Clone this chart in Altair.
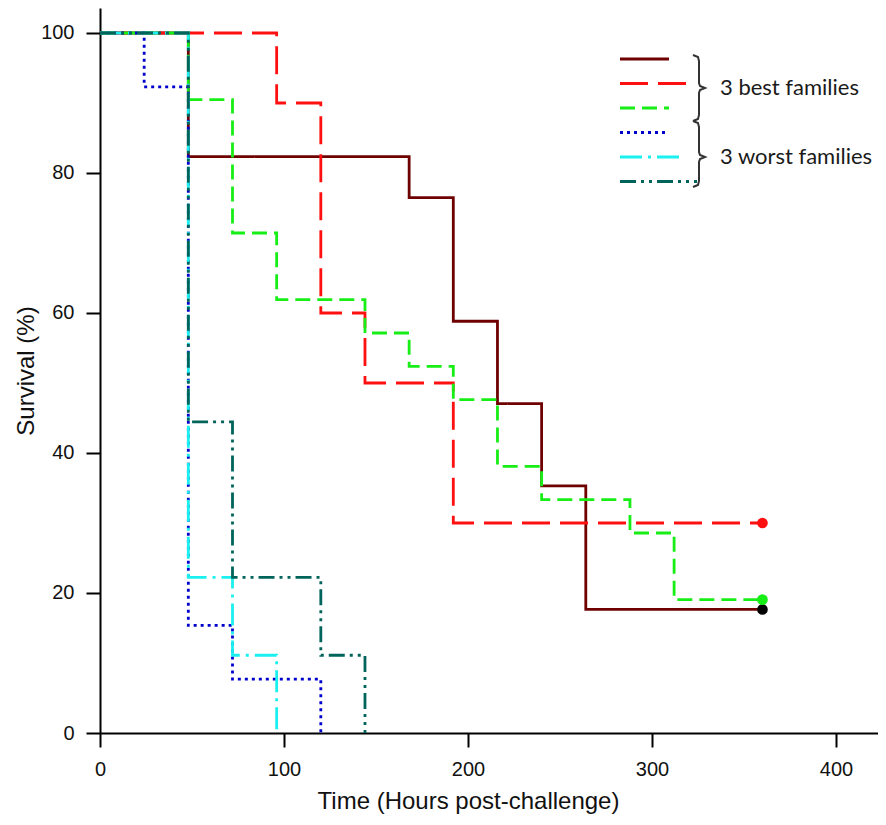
import altair as alt
import pandas as pd

# ---------------- data ----------------
series = ["Best 1", "Best 2", "Best 3", "Worst 1", "Worst 2", "Worst 3"]

best1_t = [0, 48, 168, 192, 216, 240, 264, 360]
best1_s = [100, 82.35, 76.47, 58.82, 47.06, 35.29, 17.65, 17.65]
best2_t = [0, 96, 120, 144, 192, 360]
best2_s = [100, 90, 60, 50, 30, 30]
best3_t = [0, 48, 72, 96, 144, 168, 192, 216, 240, 288, 312, 360]
best3_s = [100, 90.48, 71.43, 61.90, 57.14, 52.38, 47.62, 38.10, 33.33, 28.57, 19.05, 19.05]
worst1_t = [0, 24, 48, 72, 120]
worst1_s = [100, 92.31, 15.38, 7.69, 0]
worst2_t = [0, 48, 72, 96]
worst2_s = [100, 22.22, 11.11, 0]
worst3_t = [0, 48, 72, 120, 144]
worst3_s = [100, 44.44, 22.22, 11.11, 0]

end_series = ["Best 1", "Best 2", "Best 3"]
end_t = [360, 360, 360]
end_s = [17.65, 30, 19.05]

group_labels = ["3 best families", "3 worst families"]
x_ticks = [0, 100, 200, 300, 400]
y_ticks = [0, 20, 40, 60, 80, 100]

# ---------------- styles ----------------
line_colors = ["#6E0000", "#FF1010", "#16EE16", "#0000CC", "#1AF0F0", "#00645A"]
dashes = [[1, 0], [28, 10], [15, 7], [3, 4], [22, 6, 3, 6], [16, 5, 3, 5, 3, 5]]
dot_colors = {"Best 1": "#000000", "Best 2": "#FF1010", "Best 3": "#16EE16"}
legend_len = {"Best 1": 49, "Best 2": 68, "Best 3": 49,
              "Worst 1": 49, "Worst 2": 60, "Worst 3": 77}

W, H = 778, 725
FONT = "Liberation Sans"

all_t = [best1_t, best2_t, best3_t, worst1_t, worst2_t, worst3_t]
all_s = [best1_s, best2_s, best3_s, worst1_s, worst2_s, worst3_s]
rows = []
for k, (name, ts, ss) in enumerate(zip(series, all_t, all_s)):
    for t, s in zip(ts, ss):
        rows.append({"series": name, "time": t, "surv": s, "k": k})
df = pd.DataFrame(rows)

dots = pd.DataFrame({"series": end_series, "time": end_t, "surv": end_s})
dots["dc"] = dots["series"].map(dot_colors)

xscale = alt.Scale(domain=[0, 422.8], nice=False, zero=False)
yscale = alt.Scale(domain=[0, 103.57], nice=False, zero=False)
cscale = alt.Scale(domain=series, range=line_colors)
dscale = alt.Scale(domain=series, range=dashes)

xaxis = alt.Axis(values=x_ticks, title="Time (Hours post-challenge)", titleX=368,
                 labelFlush=False)
yaxis = alt.Axis(values=y_ticks, title="Survival (%)", labelFlush=False)

lines = alt.Chart(df).mark_line(interpolate="step-after", strokeWidth=2.8).encode(
    x=alt.X("time:Q", scale=xscale, axis=xaxis),
    y=alt.Y("surv:Q", scale=yscale, axis=yaxis),
    color=alt.Color("series:N", scale=cscale, legend=None),
    strokeDash=alt.StrokeDash("series:N", scale=dscale, legend=None),
    detail="series:N",
)

pts = alt.Chart(dots).mark_circle(size=115, opacity=1).encode(
    x=alt.X("time:Q", scale=xscale, axis=xaxis),
    y=alt.Y("surv:Q", scale=yscale, axis=yaxis),
    color=alt.Color("dc:N", scale=None, legend=None),
)

# ---------------- legend (custom) ----------------
LX, LY0, LDY = 520, 51, 24.5
leg = pd.DataFrame({"series": series})
leg["x1"] = LX
leg["x2"] = [LX + legend_len[s] for s in series]
leg["y"] = [LY0 + LDY * i for i in range(len(series))]

leg_rules = alt.Chart(leg).mark_rule(strokeWidth=2.8).encode(
    x=alt.X("x1:Q", scale=None),
    x2="x2:Q",
    y=alt.Y("y:Q", scale=None),
    color=alt.Color("series:N", scale=cscale, legend=None),
    strokeDash=alt.StrokeDash("series:N", scale=dscale, legend=None),
)

BX = 599
brace_spans = [(47, 80, 113), (113, 149, 179)]
brows = []
for b, (top, mid, bot) in enumerate(brace_spans):
    pts_b = [(BX - 6, top), (BX - 1, top + 2), (BX, top + 6), (BX, mid - 5),
             (BX + 1, mid - 2), (BX + 6, mid), (BX + 1, mid + 2), (BX, mid + 5),
             (BX, bot - 6), (BX - 1, bot - 2), (BX - 6, bot)]
    for j, (px, py) in enumerate(pts_b):
        brows.append({"b": b, "j": j, "px": px, "py": py})
braces = alt.Chart(pd.DataFrame(brows)).mark_line(
    color="#333333", strokeWidth=2, interpolate="linear").encode(
    x=alt.X("px:Q", scale=None),
    y=alt.Y("py:Q", scale=None),
    detail="b:N",
    order="j:Q",
)

txt = pd.DataFrame({"label": group_labels})
txt["tx"] = BX + 21
txt["ty"] = [m for (_, m, _) in brace_spans]
texts = alt.Chart(txt).mark_text(align="left", baseline="middle", font="Lato",
                                 fontSize=22, color="#1a1a1a").encode(
    x=alt.X("tx:Q", scale=None),
    y=alt.Y("ty:Q", scale=None),
    text="label:N",
)

chart = alt.layer(lines, pts, leg_rules, braces, texts).properties(
    width=W, height=H,
    padding={"left": 92, "top": 0, "right": 0, "bottom": 82},
    autosize=alt.AutoSizeParams(type="none"),
).configure_view(stroke=None).configure_axis(
    grid=False,
    domainColor="#000000", domainWidth=2,
    tickColor="#000000", tickWidth=2, tickSize=14,
    labelFont=FONT, labelFontSize=20, labelColor="#111111", labelPadding=12,
    titleFont=FONT, titleFontSize=24, titleFontWeight="normal", titleColor="#111111",
).configure_axisX(titlePadding=10).configure_axisY(titlePadding=2)

chart.save("out.html", embed_options={"renderer": "svg", "actions": False})
